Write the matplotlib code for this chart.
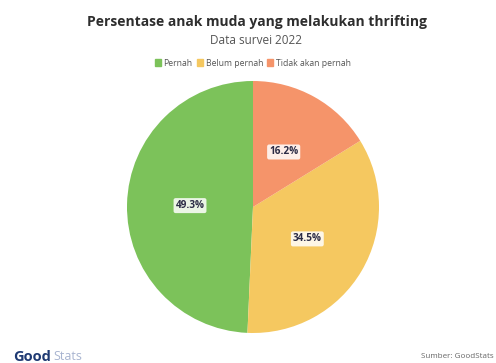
import matplotlib
matplotlib.use("Agg")
import matplotlib.pyplot as plt
from matplotlib.patches import Rectangle

categories = ["Pernah", "Belum pernah", "Tidak akan pernah"]
values = [49.3, 34.5, 16.2]
colors = ["#7cc25a", "#f5c860", "#f5946a"]
title = "Persentase anak muda yang melakukan thrifting"
subtitle = "Data survei 2022"
source = "Sumber: GoodStats"

plt.rcParams['font.family'] = ['Open Sans', 'DejaVu Sans']

fig = plt.figure(figsize=(4.96, 3.63), dpi=100)
fig.patch.set_facecolor("white")

cx, cy, r = 253, 207, 126
ax = fig.add_axes([(cx - r)/496, (363 - cy - r)/363, 2*r/496, 2*r/363])
wedges, texts, autotexts = ax.pie(
    values, colors=colors, startangle=90, counterclock=True,
    autopct=lambda p: f"{p:.1f}%", pctdistance=0.5,
    wedgeprops=dict(linewidth=0),
    textprops=dict(fontsize=7.2, color="#2b2b45", fontweight="bold"))
for t in autotexts:
    t.set_bbox(dict(boxstyle="round,pad=0.2", fc="white", ec="none", alpha=0.85))
ax.set_xlim(-1, 1)
ax.set_ylim(-1, 1)
ax.set_aspect("equal")

fig.text(257/496, 1 - 22/363, title, ha="center", va="center", fontsize=10,
         fontweight="bold", color="#2e2e2e")
fig.text(256/496, 1 - 40/363, subtitle, ha="center", va="center", fontsize=8.5,
         color="#555555")

# legend
leg = fig.legend(handles=[Rectangle((0, 0), 1, 1, color=c) for c in colors],
                 labels=categories, loc="center", bbox_to_anchor=(253/496, 1 - 63/363),
                 ncol=3, frameon=False, fontsize=6.2, handlelength=0.7,
                 handleheight=0.9, handletextpad=0.3, columnspacing=0.5)
for t in leg.get_texts():
    t.set_color("#555555")

fig.text(13/496, 1 - 357/363, "Good", ha="left", va="center", fontsize=10.5,
         fontweight="bold", color="#1f3a73")
fig.text(53/496, 1 - 357/363, "Stats", ha="left", va="center", fontsize=9,
         color="#a8b4d0")
fig.text(1 - 2/496, 1 - 357/363, source, ha="right", va="center", fontsize=5.8,
         color="#666666")

fig.savefig("out.png", dpi=100)
